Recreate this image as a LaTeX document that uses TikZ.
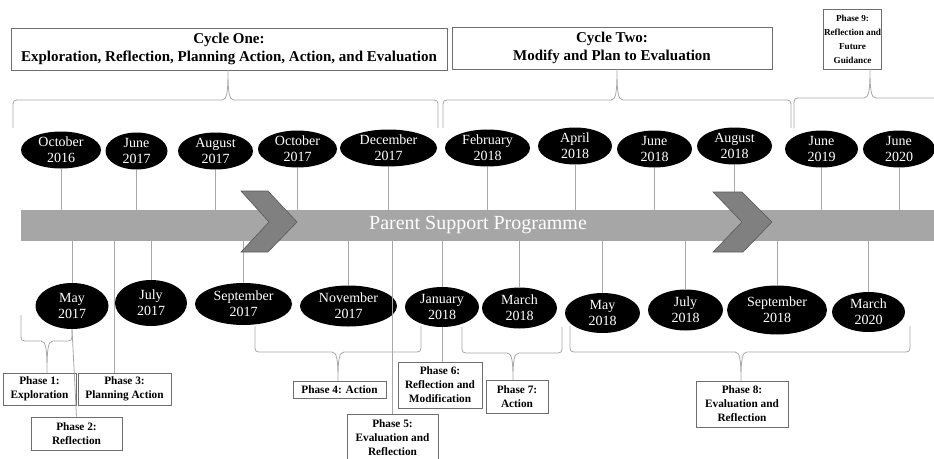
\documentclass[tikz,border=0pt]{standalone}
\usepackage{fontspec}
\setmainfont{Liberation Serif}
\definecolor{linegray}{HTML}{A8A8A8}
\definecolor{boxgray}{HTML}{6E6E6E}
\definecolor{bargray}{HTML}{A6A6A6}
\definecolor{chevgray}{HTML}{808080}
\definecolor{chevedge}{HTML}{5A5A5A}
\tikzset{
  datetext/.style={inner sep=0pt, align=center, text=white, font=\fontsize{14}{16}\selectfont},
  pbox/.style={draw=boxgray, line width=0.9pt, fill=white, inner sep=0pt, align=center, font=\fontsize{11.3}{14}\selectfont\bfseries},
  hbox/.style={draw=boxgray, line width=0.9pt, fill=white, inner sep=0pt, align=center, font=\fontsize{15}{18}\selectfont\bfseries},
  conn/.style={draw=linegray, line width=0.8pt},
  brc/.style={draw=linegray, line width=0.8pt},
  barbox/.style={fill=bargray, inner sep=0pt, text=white, font=\fontsize{20}{24}\selectfont},
  chev/.style={fill=chevgray, draw=chevedge, line width=0.6pt, line join=miter},
}
% name, x, y, w, h, text
\newcommand\datenode[6]{%
  \fill[black] (#2,#3) ellipse [x radius={#4*0.5pt}, y radius={#5*0.5pt}];
  \node[datetext, minimum width=#4, minimum height=#5] (#1) at (#2,#3) {#6};}
% x1, x2, xm, yEnd, yH, yTip, d
\newcommand\mybrace[7]{%
  \draw[brc] (#1,#4) -- (#1,{#5+(#7)}) .. controls (#1,#5) .. ({#1+abs(#7)},#5)
    -- ({#3-6},#5) .. controls ({#3-1},#5) and (#3,{#5-(#7)}) .. (#3,#6)
    .. controls (#3,{#5-(#7)}) and ({#3+1},#5) .. ({#3+6},#5)
    -- ({#2-abs(#7)},#5) .. controls (#2,#5) .. (#2,{#5+(#7)}) -- (#2,#4);}
\begin{document}
\begin{tikzpicture}[x=1pt,y=-1pt]
\useasboundingbox (0,0) rectangle (934,458);
\clip (0,0) rectangle (934,458);
\fill[white] (0,0) rectangle (934,458);

% headers
\node[hbox, minimum width=436, minimum height=42] (c1) at (229,49) {Cycle One:\\Exploration, Reflection, Planning Action, Action, and Evaluation};
\node[hbox, minimum width=320, minimum height=42] (c2) at (612,48) {Cycle Two:\\Modify and Plan to Evaluation};
\node[pbox, font=\fontsize{9.2}{14}\selectfont\bfseries, minimum width=58, minimum height=60] (p9) at (852.5,39) {Phase 9:\\Reflection and\\Future\\Guidance};

% top braces
\mybrace{13}{438}{228}{128}{100}{70}{8}
\mybrace{443}{791}{617}{128}{100}{69}{8}
\mybrace{794}{945}{870}{128}{98}{69}{8}

% bottom braces
\mybrace{21}{72}{47}{315}{341}{373}{-8}
\mybrace{255}{421}{338}{326}{352}{381}{-8}
\mybrace{462}{562}{513}{327}{353}{380}{-8}
\mybrace{570}{910}{741}{326}{352}{381}{-8}

% bar
\node[barbox, minimum width=914, minimum height=31] (bar) at (478,225.5) {Parent Support Programme};

% phase boxes
\node[pbox, minimum width=73, minimum height=32] (p1) at (39.5,389) {Phase 1:\\Exploration};
\node[pbox, minimum width=91, minimum height=33] (p2) at (76.5,433.5) {Phase 2:\\Reflection};
\node[pbox, minimum width=93, minimum height=32] (p3) at (124.5,389) {Phase 3:\\Planning Action};
\node[pbox, minimum width=93, minimum height=17] (p4) at (339.5,389.5) {Phase 4: Action};
\node[pbox, minimum width=91, minimum height=48] (p5) at (392.5,438) {Phase 5:\\Evaluation and\\Reflection};
\node[pbox, minimum width=84, minimum height=46] (p6) at (440,385) {Phase 6:\\Reflection and\\Modification};
\node[pbox, minimum width=62, minimum height=33] (p7) at (517,396.5) {Phase 7:\\Action};
\node[pbox, minimum width=92, minimum height=46] (p8) at (742,404) {Phase 8:\\Evaluation and\\Reflection};

% dates top
\datenode{oct16}{61}{150}{80}{37}{October\\2016}
\datenode{jun17}{136.5}{151}{62}{37}{June\\2017}
\datenode{aug17}{215.5}{151}{75}{37}{August\\2017}
\datenode{oct17}{297.5}{149}{79}{37}{October\\2017}
\datenode{dec17}{388.5}{148}{97}{37}{December\\2017}
\datenode{feb18}{487.5}{148}{85}{37}{February\\2018}
\datenode{apr18}{575}{146}{74}{37}{April\\2018}
\datenode{jun18}{654.5}{149}{75}{37}{June\\2018}
\datenode{aug18}{734.5}{146}{75}{37}{August\\2018}
\datenode{jun19}{821.5}{149}{73}{37}{June\\2019}
\datenode{jun20}{899}{149}{72}{37}{June\\2020}
% dates bottom
\datenode{may17}{72}{306}{73}{46}{May\\2017}
\datenode{jul17}{151}{303}{72}{46}{July\\2017}
\datenode{sep17}{243.5}{304}{97}{42}{September\\2017}
\datenode{nov17}{348.5}{306}{97}{41}{November\\2017}
\datenode{jan18}{442}{307}{74}{40}{January\\2018}
\datenode{mar18}{519.5}{308}{75}{41}{March\\2018}
\datenode{may18}{602.5}{313}{75}{40}{May\\2018}
\datenode{jul18}{685.5}{310}{75}{41}{July\\2018}
\datenode{sep18}{777}{310}{100}{49}{September\\2018}
\datenode{mar20}{868.5}{312}{73}{40}{March\\2020}

% connectors top
\foreach \n in {oct16,jun17,aug17,oct17,dec17,feb18,apr18,jun18,aug18,jun19,jun20}
  \draw[conn] (\n.south) -- (\n.south |- bar.north);
% connectors bottom
\foreach \n in {may17,jul17,sep17,nov17,jan18,mar18,may18,jul18,sep18,mar20}
  \draw[conn] (\n.north) -- (\n.north |- bar.south);
\coordinate (b3) at (114,0);
\draw[conn] (b3 |- bar.south) -- (b3 |- p3.north);
\draw[conn] (p5.north |- bar.south) -- (p5.north);
\draw[conn] (may17.south) -- (p2.north);
\draw[conn] (jan18.south) -- (jan18.south |- p6.north);

% chevrons
\filldraw[chev] (241,191) -- (268,191) -- (297,222) -- (268,252) -- (241,252) -- (269,222) -- cycle;
\filldraw[chev] (713,192) -- (742,192) -- (772,222) -- (743,252) -- (713,252) -- (742,222) -- cycle;
\end{tikzpicture}
\end{document}
